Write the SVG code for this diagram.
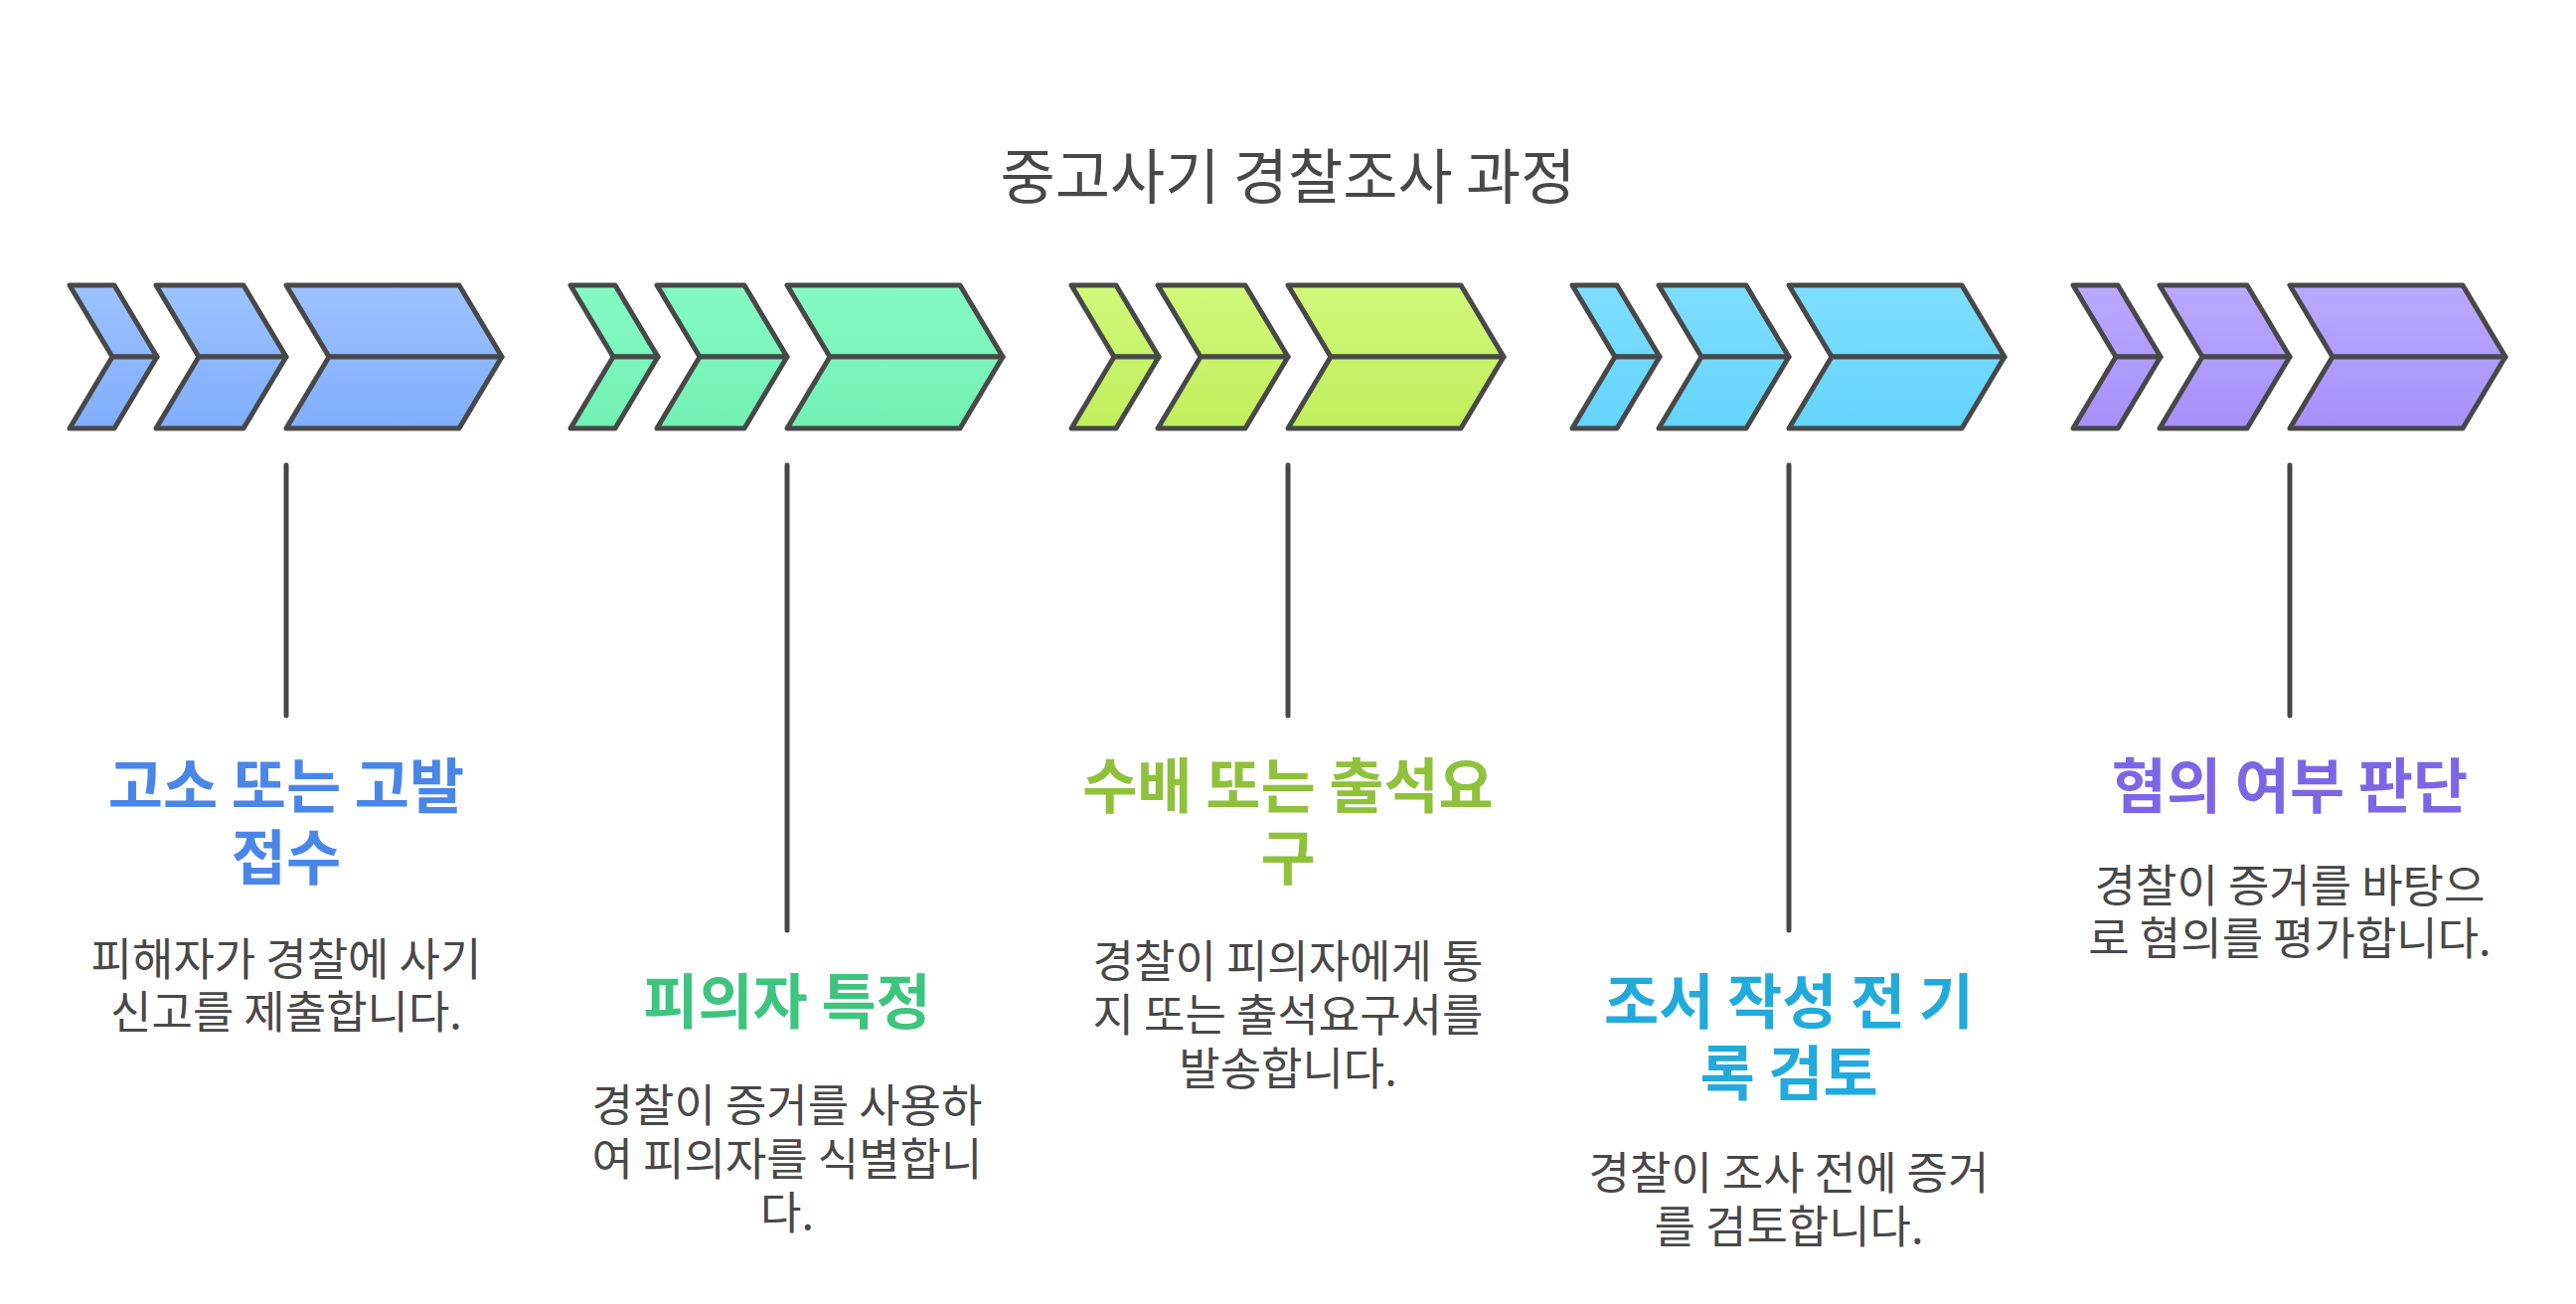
<svg xmlns="http://www.w3.org/2000/svg" width="2592" height="1312" viewBox="0 0 2592 1312">
<style>
.ch{stroke:#484848;stroke-width:5;stroke-linejoin:round}
.ln{stroke:#484848;stroke-width:5;stroke-linecap:round;fill:none}
.t{font-family:"Noto Sans CJK KR","Noto Sans",sans-serif;text-anchor:middle}
.title{font-size:60px;fill:#484848}
.h{font-size:60px;font-weight:700}
.d{font-size:45px;fill:#484848}
</style>
<defs>
<linearGradient id="g1" gradientUnits="userSpaceOnUse" x1="0" y1="287" x2="0" y2="431"><stop offset="0" stop-color="#9CC2FF"/><stop offset="1" stop-color="#80AEFC"/></linearGradient>
<linearGradient id="g2" gradientUnits="userSpaceOnUse" x1="0" y1="287" x2="0" y2="431"><stop offset="0" stop-color="#84FAC2"/><stop offset="1" stop-color="#72F0B4"/></linearGradient>
<linearGradient id="g3" gradientUnits="userSpaceOnUse" x1="0" y1="287" x2="0" y2="431"><stop offset="0" stop-color="#D1F87A"/><stop offset="1" stop-color="#C1EE5C"/></linearGradient>
<linearGradient id="g4" gradientUnits="userSpaceOnUse" x1="0" y1="287" x2="0" y2="431"><stop offset="0" stop-color="#7EDEFF"/><stop offset="1" stop-color="#64D4FB"/></linearGradient>
<linearGradient id="g5" gradientUnits="userSpaceOnUse" x1="0" y1="287" x2="0" y2="431"><stop offset="0" stop-color="#BAA9FF"/><stop offset="1" stop-color="#A790FA"/></linearGradient>
</defs>
<rect width="2592" height="1312" fill="#ffffff"/>
<text class="t title" x="1296" y="200">중고사기 경찰조사 과정</text>

<g id="step1">
<g class="ch" fill="url(#g1)">
<polygon points="70,287 115,287 158,359 113,359"/><polygon points="113,359 158,359 115,431 70,431"/>
<polygon points="157,287 245,287 288,359 200,359"/><polygon points="200,359 288,359 245,431 157,431"/>
<polygon points="288,287 462,287 505,359 331,359"/><polygon points="331,359 505,359 462,431 288,431"/>
</g>
<text class="t h" fill="#4A86E8" x="288" y="813">고소 또는 고발</text>
<text class="t h" fill="#4A86E8" x="288" y="885">접수</text>
<text class="t d" x="288" y="982">피해자가 경찰에 사기</text>
<text class="t d" x="288" y="1035">신고를 제출합니다.</text>
</g>

<g id="step2">
<g class="ch" fill="url(#g2)">
<polygon points="574,287 619,287 662,359 617,359"/><polygon points="617,359 662,359 619,431 574,431"/>
<polygon points="661,287 749,287 792,359 704,359"/><polygon points="704,359 792,359 749,431 661,431"/>
<polygon points="792,287 966,287 1009,359 835,359"/><polygon points="835,359 1009,359 966,431 792,431"/>
</g>
<text class="t h" fill="#3DC47E" x="792" y="1030">피의자 특정</text>
<text class="t d" x="792" y="1129">경찰이 증거를 사용하</text>
<text class="t d" x="792" y="1183">여 피의자를 식별합니</text>
<text class="t d" x="792" y="1237">다.</text>
</g>

<g id="step3">
<g class="ch" fill="url(#g3)">
<polygon points="1078,287 1123,287 1166,359 1121,359"/><polygon points="1121,359 1166,359 1123,431 1078,431"/>
<polygon points="1165,287 1253,287 1296,359 1208,359"/><polygon points="1208,359 1296,359 1253,431 1165,431"/>
<polygon points="1296,287 1470,287 1513,359 1339,359"/><polygon points="1339,359 1513,359 1470,431 1296,431"/>
</g>
<text class="t h" fill="#8FC13B" x="1296" y="813">수배 또는 출석요</text>
<text class="t h" fill="#8FC13B" x="1296" y="885">구</text>
<text class="t d" x="1296" y="984">경찰이 피의자에게 통</text>
<text class="t d" x="1296" y="1038">지 또는 출석요구서를</text>
<text class="t d" x="1296" y="1092">발송합니다.</text>
</g>

<g id="step4">
<g class="ch" fill="url(#g4)">
<polygon points="1582,287 1627,287 1670,359 1625,359"/><polygon points="1625,359 1670,359 1627,431 1582,431"/>
<polygon points="1669,287 1757,287 1800,359 1712,359"/><polygon points="1712,359 1800,359 1757,431 1669,431"/>
<polygon points="1800,287 1974,287 2017,359 1843,359"/><polygon points="1843,359 2017,359 1974,431 1800,431"/>
</g>
<text class="t h" fill="#22AADB" x="1800" y="1030">조서 작성 전 기</text>
<text class="t h" fill="#22AADB" x="1800" y="1102">록 검토</text>
<text class="t d" x="1800" y="1197">경찰이 조사 전에 증거</text>
<text class="t d" x="1800" y="1251">를 검토합니다.</text>
</g>

<g id="step5">
<g class="ch" fill="url(#g5)">
<polygon points="2086,287 2131,287 2174,359 2129,359"/><polygon points="2129,359 2174,359 2131,431 2086,431"/>
<polygon points="2173,287 2261,287 2304,359 2216,359"/><polygon points="2216,359 2304,359 2261,431 2173,431"/>
<polygon points="2304,287 2478,287 2521,359 2347,359"/><polygon points="2347,359 2521,359 2478,431 2304,431"/>
</g>
<text class="t h" fill="#7D66E6" x="2304" y="813">혐의 여부 판단</text>
<text class="t d" x="2304" y="908">경찰이 증거를 바탕으</text>
<text class="t d" x="2304" y="961">로 혐의를 평가합니다.</text>
</g>

<g id="connectors">
<line class="ln" x1="288" y1="468" x2="288" y2="720"/>
<line class="ln" x1="792" y1="468" x2="792" y2="936"/>
<line class="ln" x1="1296" y1="468" x2="1296" y2="720"/>
<line class="ln" x1="1800" y1="468" x2="1800" y2="936"/>
<line class="ln" x1="2304" y1="468" x2="2304" y2="720"/>
</g>
</svg>
